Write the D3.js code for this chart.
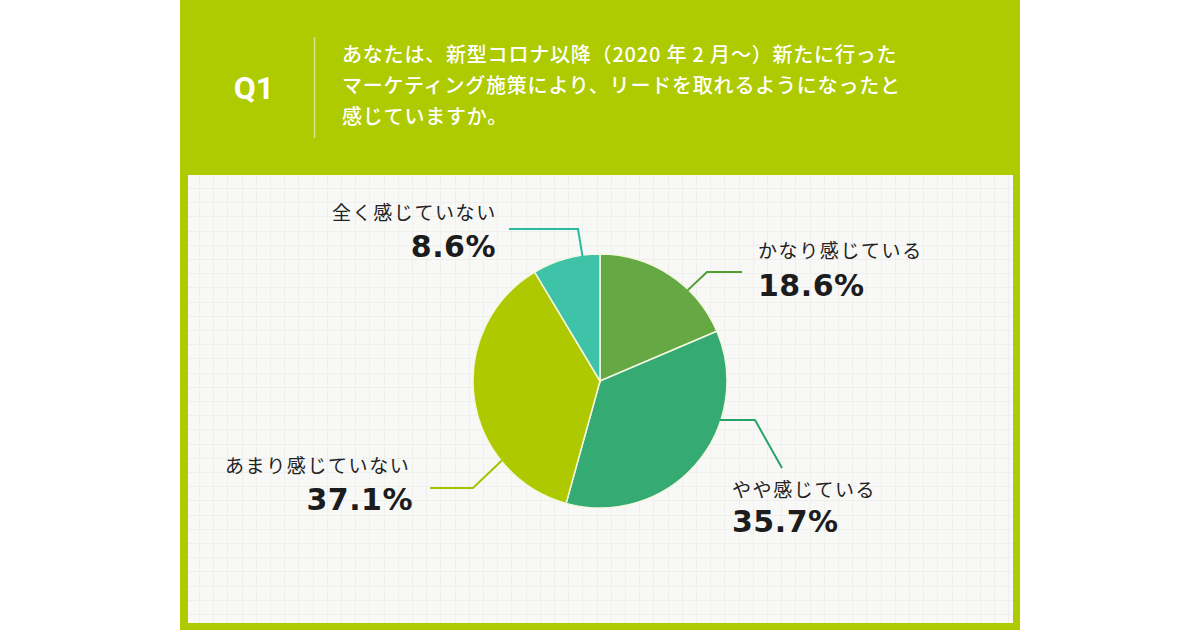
<!DOCTYPE html>
<meta charset="utf-8">
<style>
body { margin: 0; background: #fff; }
svg { display: block; }
.jp { font-family: "Noto Sans CJK JP", sans-serif; }
.pct { font-family: "DejaVu Sans", sans-serif; font-weight: bold; }
</style>
<body>
<script src="https://d3js.org/d3.v7.min.js"></script>
<script>

// data
var categories = ["かなり感じている", "やや感じている", "あまり感じていない", "全く感じていない"];
var values = [18.6, 35.7, 37.1, 8.6];
var question = "Q1";
var titleLines = [
  "あなたは、新型コロナ以降（2020 年 2 月〜）新たに行った",
  "マーケティング施策により、リードを取れるようになったと",
  "感じていますか。"
];

// styles
var sliceColors = ["#66a844", "#35ab73", "#afc900", "#3ec3a9"];
var lineColors = ["#4f9e2e", "#24a466", "#a5c300", "#27bca0"];

// label layout: edge angle (deg) for leader start, elbow, end, text anchor
var labelLayout = [
  {deg: 44,  elbow: [707, 272], end: [742, 272], name: [758, 258], pct: [758, 296], anchor: "start"},
  {deg: 108, elbow: [755, 420], end: [782, 468], name: [732, 497], pct: [732, 532], anchor: "start"},
  {deg: 231, elbow: [473, 488], end: [430, 488], name: [225, 473], pct: [413, 510], anchor: "end"},
  {deg: 352, elbow: [578, 229], end: [509, 229], name: [332, 220], pct: [496, 257], anchor: "end"}
];

var width = 1200, height = 630;
var cx = 600, cy = 381, radius = 127;

var svg = d3.select("body").append("svg")
    .attr("width", width)
    .attr("height", height);

// green panel
svg.append("rect")
    .attr("x", 180).attr("y", 0)
    .attr("width", 840).attr("height", 630)
    .attr("fill", "#adcb00");

// inner panel with grid
var inner = {x: 188, y: 175, w: 825, h: 448};
svg.append("rect")
    .attr("x", inner.x).attr("y", inner.y)
    .attr("width", inner.w).attr("height", inner.h)
    .attr("fill", "#f8f8f7");

var grid = svg.append("g")
    .attr("stroke", "#efefed")
    .attr("stroke-width", 1);
grid.selectAll(".v")
    .data(d3.range(inner.x + 11, inner.x + inner.w, 14.2))
  .enter().append("line")
    .attr("x1", function(d) { return Math.round(d) + 0.5; })
    .attr("x2", function(d) { return Math.round(d) + 0.5; })
    .attr("y1", inner.y).attr("y2", inner.y + inner.h);
grid.selectAll(".h")
    .data(d3.range(inner.y + 13, inner.y + inner.h, 14.2))
  .enter().append("line")
    .attr("y1", function(d) { return Math.round(d) + 0.5; })
    .attr("y2", function(d) { return Math.round(d) + 0.5; })
    .attr("x1", inner.x).attr("x2", inner.x + inner.w);

// header
svg.append("text")
    .attr("x", 254).attr("y", 99)
    .attr("text-anchor", "middle")
    .attr("fill", "#fff")
    .style("font-family", "Roboto, sans-serif")
    .style("font-weight", "bold")
    .style("font-size", "32px")
    .text(question);

svg.append("line")
    .attr("x1", 314.5).attr("x2", 314.5)
    .attr("y1", 37).attr("y2", 138)
    .attr("stroke", "#d6e48a")
    .attr("stroke-width", 1.5);

svg.append("g").selectAll("text")
    .data(titleLines)
  .enter().append("text")
    .attr("class", "jp")
    .attr("x", 342)
    .attr("y", function(d, i) { return 62 + i * 31; })
    .attr("fill", "#fff")
    .style("font-size", "20px")
    .style("font-weight", "500")
    .style("letter-spacing", "0.8px")
    .text(function(d) { return d; });

// pie
var pie = d3.pie().sort(null).value(function(d) { return d; });
var arc = d3.arc().innerRadius(0).outerRadius(radius);
var arcs = pie(values);

var g = svg.append("g")
    .attr("transform", "translate(" + cx + "," + cy + ")");

g.selectAll("path")
    .data(arcs)
  .enter().append("path")
    .attr("d", arc)
    .attr("fill", function(d, i) { return sliceColors[i]; })
    .attr("stroke", "#f4f8e0")
    .attr("stroke-width", 1.5);

// leader lines
var line = d3.line();
svg.append("g").selectAll("path")
    .data(labelLayout)
  .enter().append("path")
    .attr("d", function(d) {
      var a = d.deg * Math.PI / 180;
      var start = [cx + Math.sin(a) * (radius - 1), cy - Math.cos(a) * (radius - 1)];
      return line([start, d.elbow, d.end]);
    })
    .attr("fill", "none")
    .attr("stroke", function(d, i) { return lineColors[i]; })
    .attr("stroke-width", 2);

// labels
var labels = svg.append("g");
labels.selectAll(".name")
    .data(labelLayout)
  .enter().append("text")
    .attr("class", "jp")
    .attr("x", function(d) { return d.name[0]; })
    .attr("y", function(d) { return d.name[1]; })
    .attr("fill", "#222")
    .style("font-size", "19px")
    .style("letter-spacing", "1.6px")
    .text(function(d, i) { return categories[i]; });

labels.selectAll(".pct")
    .data(labelLayout)
  .enter().append("text")
    .attr("class", "pct")
    .attr("x", function(d) { return d.pct[0]; })
    .attr("y", function(d) { return d.pct[1]; })
    .attr("text-anchor", function(d) { return d.anchor; })
    .attr("fill", "#1c1c1c")
    .style("font-size", "30px")
    .style("letter-spacing", "0.5px")
    .text(function(d, i) { return values[i].toFixed(1) + "%"; });

</script>
</body>
